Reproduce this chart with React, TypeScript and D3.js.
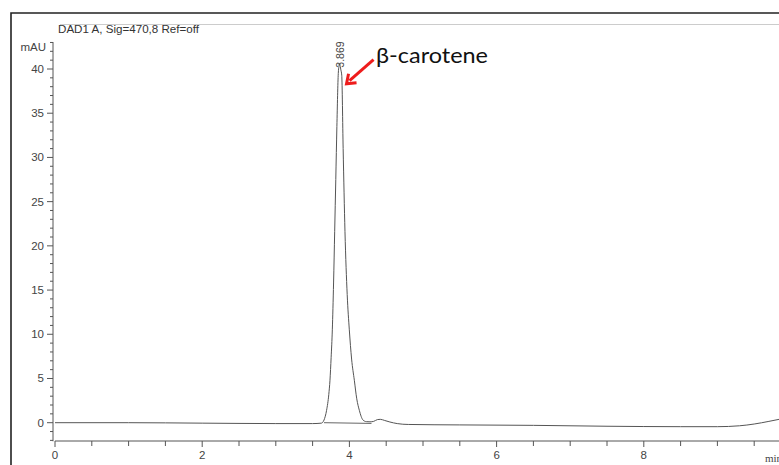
import React, { useEffect, useRef } from "react";
import * as d3 from "d3";

// HPLC trace (DAD1 A, 470 nm) with the beta-carotene peak, drawn with D3.
const times = [
  0, 1, 2, 3, 3.5, 3.62, 3.655, 3.69, 3.72, 3.736, 3.752, 3.768, 3.785, 3.8, 3.815,
  3.83, 3.849, 3.858, 3.866, 3.875, 3.884, 3.896, 3.915, 3.94, 3.97, 3.999, 4.03,
  4.067, 4.1, 4.135, 4.185, 4.23, 4.28, 4.33, 4.38, 4.42, 4.48, 4.55, 4.65, 4.8, 5.5,
  6.5, 7.5, 8.5, 9.0, 9.3, 9.5, 9.7, 9.85, 10,
];
const signal = [
  0, 0, -0.05, -0.1, -0.1, -0.05, 0.3, 1.4, 3.2, 4.8, 7.4, 10.5, 15.8, 21.6, 27.5,
  33.5, 39.5, 40.3, 40.6, 40.3, 39.9, 39.3, 31, 21.6, 14.5, 10.5, 7.2, 4.8, 2.7, 1.4,
  0.3, 0.12, 0.1, 0.15, 0.35, 0.38, 0.25, 0.08, -0.1, -0.2, -0.25, -0.3, -0.4, -0.45,
  -0.45, -0.35, -0.15, 0.15, 0.4, 0.6,
];
// integration baseline drawn under the peak
const baseT = [3.655, 4.3];
const baseV = [0.0, -0.08];

const xTicks = [0, 2, 4, 6, 8];
const yTicks = [0, 5, 10, 15, 20, 25, 30, 35, 40];

const title = "DAD1 A, Sig=470,8 Ref=off";
const peakLabel = "3.869";
const peakTime = 3.866;
const peakValue = 40.6;
const compound = "β-carotene";

export default function App() {
  const ref = useRef<SVGSVGElement | null>(null);

  useEffect(() => {
    const svg = d3.select(ref.current);
    svg.selectAll("*").remove();

    const W = 779;
    const H = 465;
    const font = "'Liberation Sans', Arial, sans-serif";

    const x = d3.scaleLinear().domain([0, 10]).range([55, 791]);
    const y = d3.scaleLinear().domain([0, 40]).range([422.7, 69]);
    const yMin = -2.1;
    const yMax = 43.05;

    svg.append("rect").attr("width", W).attr("height", H).attr("fill", "#fff");

    // outer frame
    svg
      .append("path")
      .attr("d", `M11,${H + 5} L11,13 L${W + 5},13`)
      .attr("fill", "none")
      .attr("stroke", "#222")
      .attr("stroke-width", 1.6);
    svg
      .append("line")
      .attr("x1", 60)
      .attr("x2", W)
      .attr("y1", 24.5)
      .attr("y2", 24.5)
      .attr("stroke", "#ccc")
      .attr("stroke-width", 1);

    svg
      .append("text")
      .attr("x", 58)
      .attr("y", 33)
      .attr("font-family", font)
      .attr("font-size", 11)
      .attr("fill", "#333")
      .attr("textLength", 141)
      .attr("lengthAdjust", "spacingAndGlyphs")
      .text(title);

    // y axis
    const axisColor = "#555";
    svg
      .append("line")
      .attr("x1", 53)
      .attr("x2", 53)
      .attr("y1", y(yMax))
      .attr("y2", y(yMin))
      .attr("stroke", axisColor);
    svg
      .selectAll(".ytick")
      .data(d3.range(-2, 44, 1))
      .join("line")
      .attr("x1", (d) => (d % 5 === 0 ? 47 : 50))
      .attr("x2", 53)
      .attr("y1", (d) => y(d))
      .attr("y2", (d) => y(d))
      .attr("stroke", axisColor);
    svg
      .selectAll(".ylab")
      .data(yTicks)
      .join("text")
      .attr("x", 44)
      .attr("y", (d) => y(d) + 4)
      .attr("text-anchor", "end")
      .attr("font-family", font)
      .attr("font-size", 11.5)
      .attr("fill", "#444")
      .text((d) => d);
    svg
      .append("text")
      .attr("x", 46)
      .attr("y", 51)
      .attr("text-anchor", "end")
      .attr("font-family", font)
      .attr("font-size", 11.5)
      .attr("fill", "#444")
      .text("mAU");

    // x axis
    const xAxisY = 441;
    svg
      .append("line")
      .attr("x1", x(0))
      .attr("x2", W)
      .attr("y1", xAxisY)
      .attr("y2", xAxisY)
      .attr("stroke", axisColor);
    svg
      .selectAll(".xtick")
      .data(d3.range(0, 10, 0.5))
      .join("line")
      .attr("x1", (d) => x(d))
      .attr("x2", (d) => x(d))
      .attr("y1", xAxisY)
      .attr("y2", (d) => (d % 2 === 0 ? xAxisY + 6 : xAxisY + 5))
      .attr("stroke", axisColor);
    svg
      .selectAll(".xlab")
      .data(xTicks)
      .join("text")
      .attr("x", (d) => x(d))
      .attr("y", 459)
      .attr("text-anchor", "middle")
      .attr("font-family", font)
      .attr("font-size", 11.5)
      .attr("fill", "#444")
      .text((d) => d);
    // unit label, partly beyond the right edge as in the source printout
    svg
      .append("text")
      .attr("x", 765)
      .attr("y", 462)
      .attr("font-family", "'Liberation Serif', serif")
      .attr("font-size", 11)
      .attr("fill", "#444")
      .text("min");

    // trace
    const rows = times.map((t, i) => ({ t, v: signal[i] }));
    const line = d3
      .line<{ t: number; v: number }>()
      .x((d) => x(d.t))
      .y((d) => y(d.v))
      .curve(d3.curveMonotoneX);
    svg
      .append("path")
      .datum(rows)
      .attr("fill", "none")
      .attr("stroke", "#555")
      .attr("stroke-width", 1)
      .attr("d", line);

    svg
      .append("line")
      .attr("x1", x(baseT[0]))
      .attr("x2", x(baseT[1]))
      .attr("y1", y(baseV[0]))
      .attr("y2", y(baseV[1]))
      .attr("stroke", "#666")
      .attr("stroke-width", 1);

    // peak retention time label
    const px = x(peakTime) + 4;
    const py = y(peakValue) + 4;
    svg
      .append("text")
      .attr("transform", `translate(${px},${py}) rotate(-90)`)
      .attr("font-family", font)
      .attr("font-size", 10.5)
      .attr("fill", "#444")
      .text(peakLabel);

    // annotation arrow + name
    const red = "#ee1c1c";
    const tipX = x(peakTime) + 7;
    const tipY = y(peakValue) + 20;
    svg
      .append("line")
      .attr("x1", tipX + 27)
      .attr("y1", tipY - 24)
      .attr("x2", tipX + 3)
      .attr("y2", tipY - 3)
      .attr("stroke", red)
      .attr("stroke-width", 3);
    svg
      .append("path")
      .attr("d", `M${tipX + 2},${tipY - 10} L${tipX},${tipY} L${tipX + 10},${tipY - 1}`)
      .attr("fill", "none")
      .attr("stroke", red)
      .attr("stroke-width", 3)
      .attr("stroke-linejoin", "miter");

    svg
      .append("text")
      .attr("x", 376)
      .attr("y", 63)
      .attr("font-family", "Lato, 'Open Sans', sans-serif")
      .attr("font-size", 22)
      .attr("fill", "#111")
      .attr("textLength", 112)
      .attr("lengthAdjust", "spacingAndGlyphs")
      .text(compound);
  }, []);

  return (
    <div style={{ position: "absolute", left: 0, top: 0 }}>
      <svg ref={ref} width={779} height={465} style={{ display: "block" }} />
    </div>
  );
}
